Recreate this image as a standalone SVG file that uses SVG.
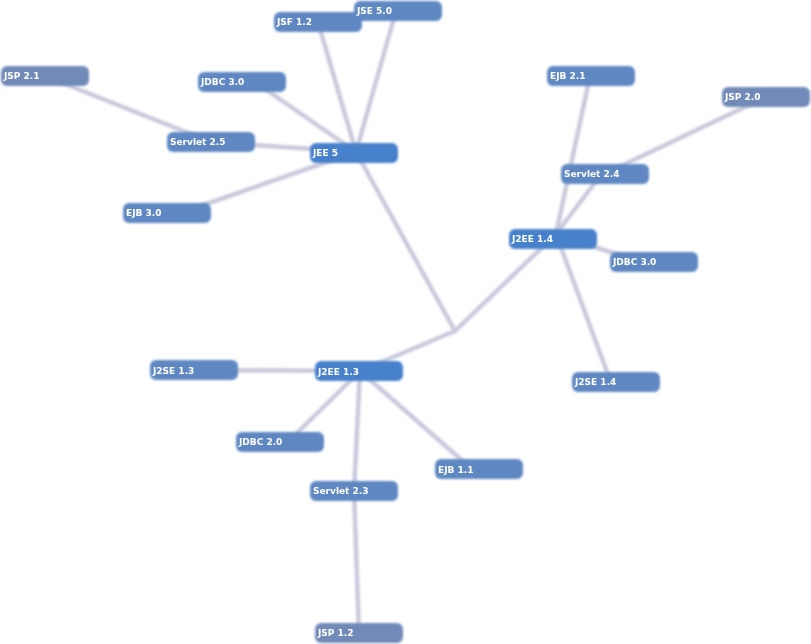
<svg xmlns="http://www.w3.org/2000/svg" width="811" height="644" viewBox="0 0 811 644">
<defs>
<filter id="blur" x="-10%" y="-10%" width="120%" height="120%"><feGaussianBlur stdDeviation="1.2"/></filter>
<filter id="tblur" x="-10%" y="-10%" width="120%" height="120%"><feGaussianBlur stdDeviation="0.35"/></filter>
<style>
.e{stroke:#c9c9dd;stroke-width:4.5;fill:none;stroke-linecap:round}
.n rect{fill:#5e88c3;filter:url(#blur)}
.n.hub rect{fill:#4781cc}
.n.jsp rect{fill:#728ab8}
.n text{fill:#ffffff;font-family:"DejaVu Sans",sans-serif;font-weight:bold;font-size:9px;filter:url(#tblur)}
</style>
</defs>
<rect width="811" height="644" fill="#ffffff"/>
<g id="connectors" filter="url(#blur)">
<line class="e" x1="455" y1="331" x2="356" y2="152"/>
<line class="e" x1="455" y1="331" x2="556" y2="234"/>
<line class="e" x1="455" y1="331" x2="360" y2="371"/>
<line class="e" x1="356" y1="152" x2="318" y2="22"/>
<line class="e" x1="356" y1="152" x2="396" y2="11"/>
<line class="e" x1="356" y1="152" x2="258" y2="84"/>
<line class="e" x1="356" y1="152" x2="211" y2="142"/>
<line class="e" x1="356" y1="152" x2="180" y2="213"/>
<line class="e" x1="211" y1="142" x2="45" y2="76"/>
<line class="e" x1="556" y1="234" x2="590" y2="76"/>
<line class="e" x1="556" y1="234" x2="600" y2="176"/>
<line class="e" x1="600" y1="176" x2="766" y2="97"/>
<line class="e" x1="556" y1="234" x2="640" y2="262"/>
<line class="e" x1="556" y1="234" x2="610" y2="380"/>
<line class="e" x1="360" y1="371" x2="194" y2="370"/>
<line class="e" x1="360" y1="371" x2="290" y2="440"/>
<line class="e" x1="360" y1="371" x2="465" y2="463"/>
<line class="e" x1="360" y1="371" x2="354" y2="491"/>
<line class="e" x1="354" y1="491" x2="359" y2="633"/>
</g>
<g id="n-jsf12" class="n"><rect x="274" y="12" width="88" height="20" rx="6"/><text x="277" y="25">JSF 1.2</text></g>
<g id="n-jse50" class="n"><rect x="354" y="1" width="88" height="20" rx="6"/><text x="357" y="14">JSE 5.0</text></g>
<g id="n-jsp21" class="n jsp"><rect x="1" y="66" width="88" height="20" rx="6"/><text x="4" y="79">JSP 2.1</text></g>
<g id="n-jdbc30a" class="n"><rect x="198" y="72" width="88" height="20" rx="6"/><text x="201" y="85">JDBC 3.0</text></g>
<g id="n-servlet25" class="n"><rect x="167" y="132" width="88" height="20" rx="6"/><text x="170" y="145">Servlet 2.5</text></g>
<g id="n-jee5" class="n hub"><rect x="310" y="143" width="88" height="20" rx="6"/><text x="313" y="156">JEE 5</text></g>
<g id="n-ejb30" class="n"><rect x="123" y="203" width="88" height="20" rx="6"/><text x="126" y="216">EJB 3.0</text></g>
<g id="n-ejb21" class="n"><rect x="547" y="66" width="88" height="20" rx="6"/><text x="550" y="79">EJB 2.1</text></g>
<g id="n-jsp20" class="n jsp"><rect x="722" y="87" width="88" height="20" rx="6"/><text x="725" y="100">JSP 2.0</text></g>
<g id="n-servlet24" class="n"><rect x="561" y="164" width="88" height="20" rx="6"/><text x="564" y="177">Servlet 2.4</text></g>
<g id="n-j2ee14" class="n hub"><rect x="509" y="229" width="88" height="20" rx="6"/><text x="512" y="242">J2EE 1.4</text></g>
<g id="n-jdbc30b" class="n"><rect x="610" y="252" width="88" height="20" rx="6"/><text x="613" y="265">JDBC 3.0</text></g>
<g id="n-j2se14" class="n"><rect x="572" y="372" width="88" height="20" rx="6"/><text x="575" y="385">J2SE 1.4</text></g>
<g id="n-j2se13" class="n"><rect x="150" y="360" width="88" height="20" rx="6"/><text x="153" y="374">J2SE 1.3</text></g>
<g id="n-j2ee13" class="n hub"><rect x="315" y="361" width="88" height="20" rx="6"/><text x="318" y="375">J2EE 1.3</text></g>
<g id="n-jdbc20" class="n"><rect x="236" y="432" width="88" height="20" rx="6"/><text x="239" y="445">JDBC 2.0</text></g>
<g id="n-ejb11" class="n"><rect x="435" y="459" width="88" height="20" rx="6"/><text x="438" y="473">EJB 1.1</text></g>
<g id="n-servlet23" class="n"><rect x="310" y="481" width="88" height="20" rx="6"/><text x="313" y="494">Servlet 2.3</text></g>
<g id="n-jsp12" class="n jsp"><rect x="315" y="623" width="88" height="20" rx="6"/><text x="318" y="636">JSP 1.2</text></g>
</svg>
